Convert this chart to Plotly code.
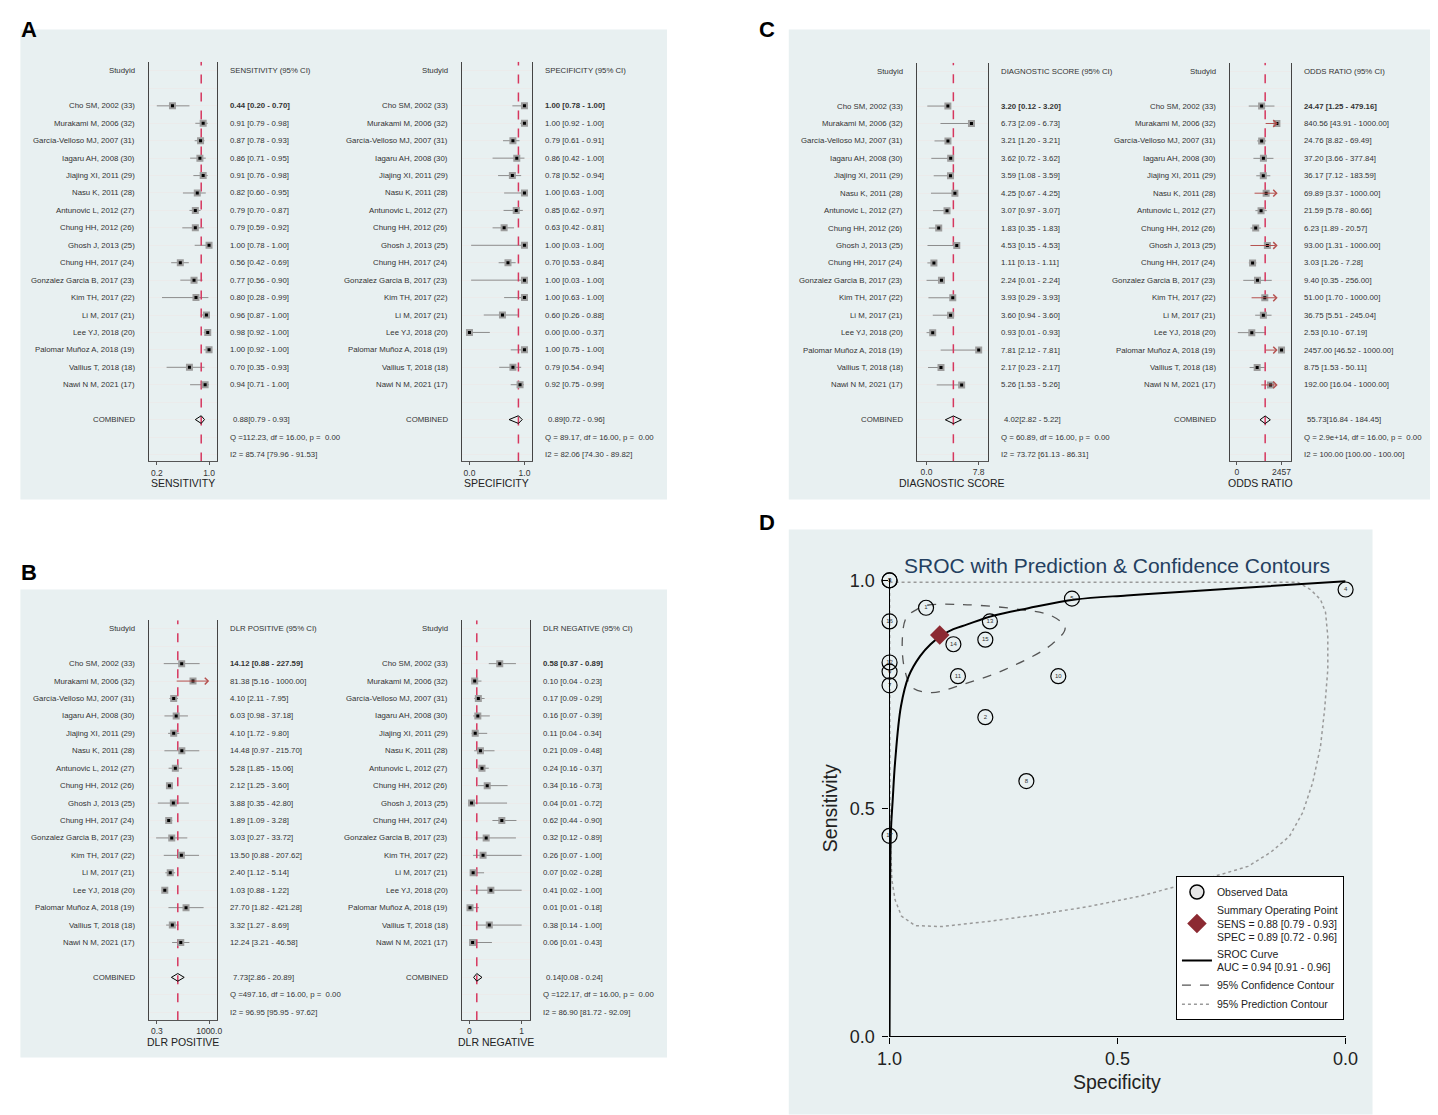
import math
import plotly.graph_objects as go

W, H = 1438, 1115

studies = [
    "Cho SM, 2002 (33)", "Murakami M, 2006 (32)", "García-Velloso MJ, 2007 (31)",
    "Iagaru AH, 2008 (30)", "Jiajing XI, 2011 (29)", "Nasu K, 2011 (28)",
    "Antunovic L, 2012 (27)", "Chung HH, 2012 (26)", "Ghosh J, 2013 (25)",
    "Chung HH, 2017 (24)", "Gonzalez Garcia B, 2017 (23)", "Kim TH, 2017 (22)",
    "Li M, 2017 (21)", "Lee YJ, 2018 (20)", "Palomar Muñoz A, 2018 (19)",
    "Vallius T, 2018 (18)", "Nawi N M, 2021 (17)",
]

# sensitivity
sens = [0.44, 0.91, 0.87, 0.86, 0.91, 0.82, 0.79, 0.79, 1.00, 0.56, 0.77, 0.80, 0.96, 0.98, 1.00, 0.70, 0.94]
sens_lo = [0.20, 0.79, 0.78, 0.71, 0.76, 0.60, 0.70, 0.59, 0.78, 0.42, 0.56, 0.28, 0.87, 0.92, 0.92, 0.35, 0.71]
sens_hi = [0.70, 0.98, 0.93, 0.95, 0.98, 0.95, 0.87, 0.92, 1.00, 0.69, 0.90, 0.99, 1.00, 1.00, 1.00, 0.93, 1.00]
sens_pool = (0.88, 0.79, 0.93)
sens_stats = ["Q =112.23, df = 16.00, p =  0.00", "I2 = 85.74 [79.96 - 91.53]"]

# specificity
spec = [1.00, 1.00, 0.79, 0.86, 0.78, 1.00, 0.85, 0.63, 1.00, 0.70, 1.00, 1.00, 0.60, 0.00, 1.00, 0.79, 0.92]
spec_lo = [0.78, 0.92, 0.61, 0.42, 0.52, 0.63, 0.62, 0.42, 0.03, 0.53, 0.03, 0.63, 0.26, 0.00, 0.75, 0.54, 0.75]
spec_hi = [1.00, 1.00, 0.91, 1.00, 0.94, 1.00, 0.97, 0.81, 1.00, 0.84, 1.00, 1.00, 0.88, 0.37, 1.00, 0.94, 0.99]
spec_pool = (0.89, 0.72, 0.96)
spec_stats = ["Q = 89.17, df = 16.00, p =  0.00", "I2 = 82.06 [74.30 - 89.82]"]

# positive likelihood ratio
dlrp = [14.12, 81.38, 4.10, 6.03, 4.10, 14.48, 5.28, 2.12, 3.88, 1.89, 3.03, 13.50, 2.40, 1.03, 27.70, 3.32, 12.24]
dlrp_lo = [0.88, 5.16, 2.11, 0.98, 1.72, 0.97, 1.85, 1.25, 0.35, 1.09, 0.27, 0.88, 1.12, 0.88, 1.82, 1.27, 3.21]
dlrp_hi = [227.59, 1000.00, 7.95, 37.18, 9.80, 215.70, 15.06, 3.60, 42.80, 3.28, 33.72, 207.62, 5.14, 1.22, 421.28, 8.69, 46.58]
dlrp_pool = (7.73, 2.86, 20.89)
dlrp_stats = ["Q =497.16, df = 16.00, p =  0.00", "I2 = 96.95 [95.95 - 97.62]"]

# negative likelihood ratio
dlrn = [0.58, 0.10, 0.17, 0.16, 0.11, 0.21, 0.24, 0.34, 0.04, 0.62, 0.32, 0.26, 0.07, 0.41, 0.01, 0.38, 0.06]
dlrn_lo = [0.37, 0.04, 0.09, 0.07, 0.04, 0.09, 0.16, 0.16, 0.01, 0.44, 0.12, 0.07, 0.02, 0.02, 0.01, 0.14, 0.01]
dlrn_hi = [0.89, 0.23, 0.29, 0.39, 0.34, 0.48, 0.37, 0.73, 0.72, 0.90, 0.89, 1.00, 0.28, 1.00, 0.18, 1.00, 0.43]
dlrn_pool = (0.14, 0.08, 0.24)
dlrn_stats = ["Q =122.17, df = 16.00, p =  0.00", "I2 = 86.90 [81.72 - 92.09]"]

# diagnostic score
dscore = [3.20, 6.73, 3.21, 3.62, 3.59, 4.25, 3.07, 1.83, 4.53, 1.11, 2.24, 3.93, 3.60, 0.93, 7.81, 2.17, 5.26]
dscore_lo = [0.12, 2.09, 1.20, 0.72, 1.08, 0.67, 0.97, 0.35, 0.15, 0.13, 0.01, 0.29, 0.94, 0.01, 2.12, 0.23, 1.53]
dscore_hi = [3.20, 6.73, 3.21, 3.62, 3.59, 4.25, 3.07, 1.83, 4.53, 1.11, 2.24, 3.93, 3.60, 0.93, 7.81, 2.17, 5.26]
dscore_pool = (4.02, 2.82, 5.22)
dscore_stats = ["Q = 60.89, df = 16.00, p =  0.00", "I2 = 73.72 [61.13 - 86.31]"]

# diagnostic odds ratio
dor = [24.47, 840.56, 24.76, 37.20, 36.17, 69.89, 21.59, 6.23, 93.00, 3.03, 9.40, 51.00, 36.75, 2.53, 2457.00, 8.75, 192.00]
dor_lo = [1.25, 43.91, 8.82, 3.66, 7.12, 3.37, 5.78, 1.89, 1.31, 1.26, 0.35, 1.70, 5.51, 0.10, 46.52, 1.53, 16.04]
dor_hi = [479.16, 1000.00, 69.49, 377.84, 183.59, 1000.00, 80.66, 20.57, 1000.00, 7.28, 256.00, 1000.00, 245.04, 67.19, 1000.00, 50.11, 1000.00]
dor_pool = (55.73, 16.84, 184.45)
dor_stats = ["Q = 2.9e+14, df = 16.00, p =  0.00", "I2 = 100.00 [100.00 - 100.00]"]

# SROC curve and contours (specificity, sensitivity)
sroc_spec = [1.0, 0.999, 0.997, 0.993, 0.988, 0.975, 0.958, 0.933, 0.91, 0.886, 0.86, 0.831, 0.771, 0.696, 0.593, 0.48, 0.373, 0.204, 0.0]
sroc_sens = [0.0, 0.30, 0.45, 0.52, 0.60, 0.724, 0.79, 0.834, 0.86, 0.879, 0.893, 0.903, 0.923, 0.939, 0.958, 0.967, 0.974, 0.985, 0.998]
conf_spec = [0.920, 0.839, 0.712, 0.644, 0.615, 0.644, 0.746, 0.839, 0.907, 0.950, 0.967, 0.972, 0.963, 0.941, 0.920]
conf_sens = [0.945, 0.947, 0.936, 0.922, 0.896, 0.860, 0.805, 0.772, 0.754, 0.765, 0.805, 0.871, 0.919, 0.936, 0.945]
pred_spec = [1.0, 0.5, 0.105, 0.077, 0.055, 0.044, 0.039, 0.039, 0.046, 0.055, 0.072, 0.094, 0.123, 0.164,
             0.214, 0.274, 0.383, 0.449, 0.558, 0.667, 0.777, 0.886, 0.944, 0.974, 0.988, 0.995, 0.999, 1.0]
pred_sens = [0.996, 0.996, 0.996, 0.980, 0.958, 0.930, 0.877, 0.805, 0.717, 0.636, 0.557, 0.491, 0.439, 0.404,
             0.373, 0.355, 0.325, 0.308, 0.286, 0.268, 0.253, 0.241, 0.243, 0.264, 0.300, 0.344, 0.45, 0.996]
auc_txt = "AUC = 0.94 [0.91 - 0.96]"

FONT = "Arial, Liberation Sans, sans-serif"
PANEL_BG = "#e8f0f1"
STEP = 17.43

# the page comes out slightly shrunk and shifted; positions below are given in
# picture pixels and mapped back to figure pixels here
SX, BX = 0.984, 20.6
SY, BY = 0.983, 17.5


def fx(p):
    return ((p - BX) / SX) / W


def fy(p):
    return 1 - ((p - BY) / SY) / H


fig = go.Figure()


def fmt(e, l, h):
    return "%.2f [%.2f - %.2f]" % (e, l, h)


def add_forest(k, box, hdr_y, est, lo, hi, pool, stats, head, title, title_y,
               xrange, tickvals, ticktext, log=False):
    xa = "x" if k == 1 else "x%d" % k
    ya = "y" if k == 1 else "y%d" % k
    left, right, top, bottom = box
    bw = right - left
    r_top = (top - hdr_y) / STEP
    r_bot = (bottom - hdr_y) / STEP
    rows = [2 + i for i in range(len(est))]
    trunc = [h >= 1000 for h in hi]
    tf = math.log10 if log else (lambda v: v)
    common = dict(xaxis=xa, yaxis=ya, showlegend=False, hoverinfo="skip")

    cx, cy = [], []
    for r, l, h, t in zip(rows, lo, hi, trunc):
        if not t:
            cx += [l, h, None]
            cy += [r, r, None]
    fig.add_trace(go.Scatter(x=cx, y=cy, mode="lines",
                             line=dict(color="#8c8c8c", width=1), **common))
    for r, l, h, t in zip(rows, lo, hi, trunc):
        if t:
            fig.add_annotation(x=tf(h), y=r, ax=tf(l), ay=r, xref=xa, yref=ya,
                               axref=xa, ayref=ya, text="", showarrow=True,
                               arrowhead=4, arrowsize=1.3, arrowwidth=1,
                               arrowcolor="#b5514f", standoff=0)

    # pooled estimate line
    fig.add_trace(go.Scatter(x=[pool[0], pool[0]], y=[r_bot, r_top], mode="lines",
                             line=dict(color="#d6365e", width=1.5, dash="dash"), **common))
    fig.add_trace(go.Scatter(x=est, y=rows, mode="markers",
                             marker=dict(symbol="square", size=7, color="#9d9d9d"), **common))
    fig.add_trace(go.Scatter(x=est, y=rows, mode="markers",
                             marker=dict(symbol="square", size=3, color="black"), **common))
    pe, pl, ph = pool
    fig.add_trace(go.Scatter(x=[pl, pe, ph, pe, pl], y=[20, 19.78, 20, 20.22, 20], mode="lines",
                             line=dict(color="black", width=1), **common))

    xkey = "xaxis" if k == 1 else "xaxis%d" % k
    ykey = "yaxis" if k == 1 else "yaxis%d" % k
    fig.update_layout(**{
        xkey: dict(domain=[fx(left), fx(right)], range=xrange, type="log" if log else "linear",
                   anchor=ya, showline=True, linecolor="#555", linewidth=1, mirror=False,
                   ticks="outside", ticklen=3, tickcolor="#555", tickvals=tickvals,
                   ticktext=ticktext, tickfont=dict(size=8.5, color="#333"),
                   showgrid=False, zeroline=False),
        ykey: dict(domain=[fy(bottom), fy(top)], range=[r_bot, r_top], anchor=xa,
                   showline=True, mirror=True, linecolor="#444", linewidth=1,
                   tickvals=list(range(23)), showticklabels=False, ticks="",
                   showgrid=True, gridcolor="#ebebeb", gridwidth=1, zeroline=False),
    })

    xd = xa + " domain"
    nx = -12 / bw
    vx = 1 + 11.5 / bw
    tfont = dict(size=7.8, color="#333")
    names = ["Studyid"] + studies + ["COMBINED"]
    nrows = [0] + rows + [20]
    for n, r in zip(names, nrows):
        fig.add_annotation(x=nx, y=r, xref=xd, yref=ya, text=n, showarrow=False,
                           xanchor="right", yanchor="middle", font=tfont)
    vals = [head] + [fmt(e, l, h) for e, l, h in zip(est, lo, hi)]
    vals[1] = "<b>" + vals[1] + "</b>"
    for v, r in zip(vals, [0] + rows):
        fig.add_annotation(x=vx, y=r, xref=xd, yref=ya, text=v, showarrow=False,
                           xanchor="left", yanchor="middle", font=tfont)
    fig.add_annotation(x=vx + 3 / bw, y=20, xref=xd, yref=ya,
                       text="%.2f[%.2f - %.2f]" % pool, showarrow=False,
                       xanchor="left", yanchor="middle", font=tfont)
    for s, r in zip(stats, [21, 22]):
        fig.add_annotation(x=vx, y=r, xref=xd, yref=ya, text=s, showarrow=False,
                           xanchor="left", yanchor="middle", font=tfont)
    fig.add_annotation(x=0.5, y=fy(title_y), xref=xd, yref="paper", text=title,
                       showarrow=False, xanchor="center", yanchor="middle",
                       font=dict(size=10.5, color="#222"))


# panel backgrounds and letters
for x0, y0, x1, y1, letter, lx, ly in [
    (20, 30, 668, 500, "A", 10, 15),
    (20, 590, 668, 1058, "B", 10, 573),
    (790, 30, 1438, 500, "C", 768, 15),
    (790, 530, 1375, 1115, "D", 768, 523),
]:
    fig.add_shape(type="rect", xref="paper", yref="paper", x0=fx(x0), x1=fx(x1),
                  y0=fy(y1), y1=fy(y0), fillcolor=PANEL_BG, line_width=0, layer="below")
    fig.add_annotation(x=max(fx(lx), 8 / W), y=min(fy(ly), 1 - 13 / H), xref="paper", yref="paper",
                       text="<b>%s</b>" % letter, showarrow=False, xanchor="center",
                       yanchor="middle", font=dict(size=22, color="black"))

add_forest(1, (149.3, 216.7, 62.3, 462), 71.5, sens, sens_lo, sens_hi, sens_pool, sens_stats,
           "SENSITIVITY (95% CI)", "SENSITIVITY", 483.5, [0.087, 1.117], [0.2, 1.0], ["0.2", "1.0"])
add_forest(2, (462.7, 532.3, 62.3, 462), 71.5, spec, spec_lo, spec_hi, spec_pool, spec_stats,
           "SPECIFICITY (95% CI)", "SPECIFICITY", 483.5, [-0.133, 1.13], [0.0, 1.0], ["0.0", "1.0"])
add_forest(3, (149.3, 216.7, 620.7, 1020.7), 629.3, dlrp, dlrp_lo, dlrp_hi, dlrp_pool, dlrp_stats,
           "DLR POSITIVE (95% CI)", "DLR POSITIVE", 1043, [-1.02, 3.504], [0.3, 1000],
           ["0.3", "1000.0"], log=True)
add_forest(4, (462.7, 530.7, 620.7, 1020.7), 629.3, dlrn, dlrn_lo, dlrn_hi, dlrn_pool, dlrn_stats,
           "DLR NEGATIVE (95% CI)", "DLR NEGATIVE", 1043, [-0.14, 1.16], [0, 1], ["0", "1"])
add_forest(5, (918.3, 989.3, 63.3, 461.7), 71.7, dscore, dscore_lo, dscore_hi, dscore_pool,
           dscore_stats, "DIAGNOSTIC SCORE (95% CI)", "DIAGNOSTIC SCORE", 483.5, [-1.45, 9.15],
           [0, 7.8], ["0.0", "7.8"])
add_forest(6, (1231.7, 1293.3, 63.3, 461.7), 71.7, dor, dor_lo, dor_hi, dor_pool, dor_stats,
           "ODDS RATIO (95% CI)", "ODDS RATIO", 483.5, [-1.835, 4.343], [0.079, 2457],
           ["0", "2457"], log=True)

# ---- panel D: SROC ----
study_no = [str(len(studies) - i) for i in range(len(studies))]
sc = dict(xaxis="x7", yaxis="y7")
fig.add_trace(go.Scatter(x=pred_spec, y=pred_sens, mode="lines",
                         line=dict(color="#9a9a9a", width=1.5, dash="dot"),
                         name="95% Prediction Contour", legendrank=5, hoverinfo="skip", **sc))
fig.add_trace(go.Scatter(x=conf_spec, y=conf_sens, mode="lines", line_shape="spline",
                         line=dict(color="#555", width=1.3, dash="dash"),
                         name="95% Confidence Contour", legendrank=4, hoverinfo="skip", **sc))
fig.add_trace(go.Scatter(x=sroc_spec, y=sroc_sens, mode="lines", line_shape="spline",
                         line=dict(color="black", width=2),
                         name="SROC Curve<br>" + auc_txt, legendrank=3, hoverinfo="skip", **sc))
fig.add_trace(go.Scatter(x=spec, y=sens, mode="markers+text", text=study_no,
                         textposition="middle center", textfont=dict(size=6, color="#333"),
                         marker=dict(symbol="circle-open", size=15, color="black", line=dict(width=1.2)),
                         cliponaxis=False, showlegend=False, hoverinfo="skip", **sc))
fig.add_trace(go.Scatter(x=[None], y=[None], mode="markers",
                         marker=dict(symbol="circle", size=14, color="#e6e6e6",
                                     line=dict(color="black", width=1.5)),
                         name="Observed Data", legendrank=1, **sc))
fig.add_trace(go.Scatter(x=[spec_pool[0]], y=[sens_pool[0]], mode="markers",
                         marker=dict(symbol="diamond", size=15, color="#8c2a32"),
                         cliponaxis=False, hoverinfo="skip",
                         name="Summary Operating Point<br>SENS = %.2f [%.2f - %.2f]<br>SPEC = %.2f [%.2f - %.2f]"
                         % (sens_pool + spec_pool), legendrank=2, **sc))

fig.update_layout(
    xaxis7=dict(domain=[fx(891), fx(1348)], range=[1.0, 0.0], anchor="y7", showline=True,
                linecolor="black", linewidth=1.3, ticks="outside", ticklen=6, tickcolor="black",
                tickvals=[1.0, 0.5, 0.0], ticktext=["1.0", "0.5", "0.0"],
                tickfont=dict(size=18, color="#222"), showgrid=False, zeroline=False),
    yaxis7=dict(domain=[fy(1037), fy(580)], range=[0, 1.002], anchor="x7", showline=True,
                linecolor="black", linewidth=1.3, ticks="outside", ticklen=6, tickcolor="black",
                tickvals=[0.0, 0.5, 1.0], ticktext=["0.0", "0.5", "1.0"], ticklabelstandoff=4,
                tickfont=dict(size=18, color="#222"), showgrid=False, zeroline=False),
)
fig.add_annotation(x=fx(1119), y=fy(566), xref="paper", yref="paper",
                   text="SROC with Prediction & Confidence Contours", showarrow=False,
                   xanchor="center", yanchor="middle", font=dict(size=21, color="#243f60"))
fig.add_annotation(x=fx(1119), y=fy(1083), xref="paper", yref="paper", text="Specificity",
                   showarrow=False, xanchor="center", yanchor="middle",
                   font=dict(size=19.5, color="#222"))
fig.add_annotation(x=fx(832), y=fy(809), xref="paper", yref="paper", text="Sensitivity",
                   showarrow=False, textangle=-90, xanchor="center", yanchor="middle",
                   font=dict(size=19.5, color="#222"))

fig.update_layout(
    width=W, height=H, autosize=False,
    margin=dict(l=0, r=0, t=0, b=0),
    paper_bgcolor="white", plot_bgcolor="white",
    font=dict(family=FONT, color="#333"),
    showlegend=True,
    legend=dict(x=fx(1178), y=fy(877), xanchor="left", yanchor="top",
                bordercolor="black", borderwidth=1, bgcolor="white",
                font=dict(size=10.5, color="#222"), itemwidth=30, traceorder="normal"),
)

fig.write_html("out.html")
